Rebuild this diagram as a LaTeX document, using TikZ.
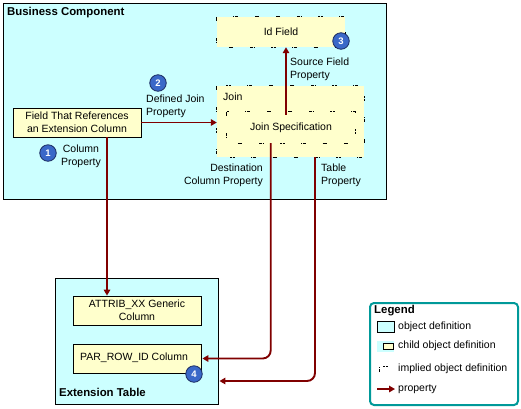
\documentclass[tikz,border=0pt]{standalone}
\usepackage{fontspec}
\setmainfont{Liberation Sans}
\usetikzlibrary{arrows.meta}
\definecolor{objcyan}{HTML}{CCFFFF}
\definecolor{childyel}{HTML}{FFFFCC}
\definecolor{proprd}{HTML}{800000}
\definecolor{badgeblue}{HTML}{3A68C8}
\definecolor{badgeline}{HTML}{1A2A60}
\definecolor{legteal}{HTML}{009999}
\tikzset{
  txt/.style={font=\fontsize{10.5}{13}\selectfont, inner sep=0pt},
  btxt/.style={font=\fontsize{11.4}{13}\selectfont\bfseries, inner sep=0pt},
  objbox/.style={draw=black, line width=0.9pt, fill=objcyan},
  childbox/.style={draw=black, line width=0.8pt, fill=childyel, txt, align=center},
  implied/.style={draw=black, line width=0.7pt,
    dash pattern=on 0.6pt off 0.6pt on 0.6pt off 0.6pt on 0.6pt off 0.6pt on 0.6pt off 17pt},
  prop/.style={draw=proprd, line width=1.9pt, -{Triangle[length=6pt,width=6.5pt]}},
  badge/.style={circle, fill=badgeblue, draw=badgeline, line width=0.8pt, minimum size=16.5pt,
    inner sep=0pt, text=white, font=\fontsize{9.5}{10}\selectfont\bfseries},
}
\begin{document}
\begin{tikzpicture}[x=1pt,y=-1pt]
\useasboundingbox (0,0) rectangle (521,408);
% Business Component
\node[objbox, minimum width=383pt, minimum height=196pt, inner sep=0pt] (bc) at (194.5,101) {};
\node[btxt, anchor=west] (bctitle) at (7,13) {Business Component};
% Id Field
\node[fill=childyel, minimum width=128pt, minimum height=30pt, inner sep=0pt] (idf) at (281,32) {};
\draw[implied] (idf.north west) rectangle (idf.south east);
\node[txt] (idft) at (idf.center) {Id Field};
% Join
\node[fill=childyel, minimum width=147pt, minimum height=71pt, inner sep=0pt] (join) at (290.5,121.5) {};
\draw[implied] (join.north west) rectangle (join.south east);
\node[txt, anchor=west] (joint) at (223,97) {Join};
\node[minimum width=128pt, minimum height=31pt, inner sep=0pt] (jspec) at (291,127.5) {};
\draw[implied] (jspec.north west) rectangle (jspec.south east);
\node[txt] (jspect) at (jspec.center) {Join Specification};
% Field
\node[childbox, minimum width=128pt, minimum height=29pt] (field) at (77,122.5) {Field That References\\an Extension Column};
% Extension Table
\node[objbox, minimum width=163pt, minimum height=126pt, inner sep=0pt] (ext) at (136.5,341) {};
\node[btxt, anchor=west] (extt) at (59,392) {Extension Table};
\node[childbox, minimum width=128pt, minimum height=29pt] (attrib) at (137,310.5) {ATTRIB\_XX Generic\\Column};
\node[childbox, minimum width=128pt, minimum height=29pt] (par) at (137,358.5) {};
\node[txt] (part) at (134,357.5) {PAR\_ROW\_ID Column};
% connectors
\draw[prop] (field.east) -- (field.east -| join.west);
\coordinate (srcA) at ([xshift=-5pt,yshift=-3pt]jspec.north);
\draw[prop] (srcA) -- (srcA |- idf.south);
\draw[prop] (field.south -| 107,0) -- (attrib.north -| 107,0);
\coordinate (dstA) at ([xshift=-20.3pt]jspec.south);
\draw[prop, rounded corners=8pt] (dstA) |- ([xshift=1pt]par.east);
\coordinate (tabA) at ([xshift=24.5pt]join.south);
\coordinate (tabB) at ([yshift=-40pt]ext.east);
\draw[prop, rounded corners=8pt] (tabA) |- ([xshift=1pt]tabB);
% labels
\node[txt, anchor=west, align=left] (ldj) at (146,106.5) {Defined Join\\Property};
\node[txt, align=center] (lcol) at (81,156) {Column\\Property};
\node[txt, anchor=west, align=left] (lsrc) at (290,69.5) {Source Field\\Property};
\node[txt, anchor=east, align=right] (ldst) at (263,175) {Destination\\Column Property};
\node[txt, anchor=west, align=left] (ltab) at (321,175) {Table\\Property};
% badges
\node[badge] (b1) at (48,153) {1};
\node[badge] (b2) at (158,83) {2};
\node[badge] (b3) at (341,41) {3};
\node[badge] (b4) at (194,374) {4};
% Legend
\node[draw=legteal, line width=2pt, rounded corners=4pt, minimum width=148pt, minimum height=102pt, inner sep=0pt] (leg) at (444,354) {};
\node[btxt, anchor=west] (legt) at (374,311) {Legend};
\node[draw=black, line width=0.8pt, fill=objcyan, minimum width=17pt, minimum height=11pt, inner sep=0pt] (lg1) at (385.5,326.5) {};
\node[txt, anchor=west] (lg1t) at (398,327) {object definition};
\node[fill=objcyan, minimum width=17pt, minimum height=11pt, inner sep=0pt] (lg2) at (385.5,346.5) {};
\node[draw=black, line width=0.7pt, fill=childyel, minimum width=10pt, minimum height=6pt, inner sep=0pt] (lg2b) at (388,346) {};
\node[txt, anchor=west] (lg2t) at (398,346) {child object definition};
\coordinate (lg3a) at (379,372);
\coordinate (lg3b) at (379,367);
\coordinate (lg3c) at (388,366);
\draw[black, line width=0.7pt, dash pattern=on 0.6pt off 0.8pt] (lg3a) -- (lg3b);
\draw[black, line width=0.7pt, dash pattern=on 0.6pt off 0.8pt] (383,366) -- (lg3c);
\node[txt, anchor=west] (lg3t) at (398,369) {implied object definition};
\coordinate (lg4a) at (377,389);
\coordinate (lg4b) at (395,389);
\draw[prop] (lg4a) -- (lg4b);
\node[txt, anchor=west] (lg4t) at (398,389) {property};
\end{tikzpicture}
\end{document}
